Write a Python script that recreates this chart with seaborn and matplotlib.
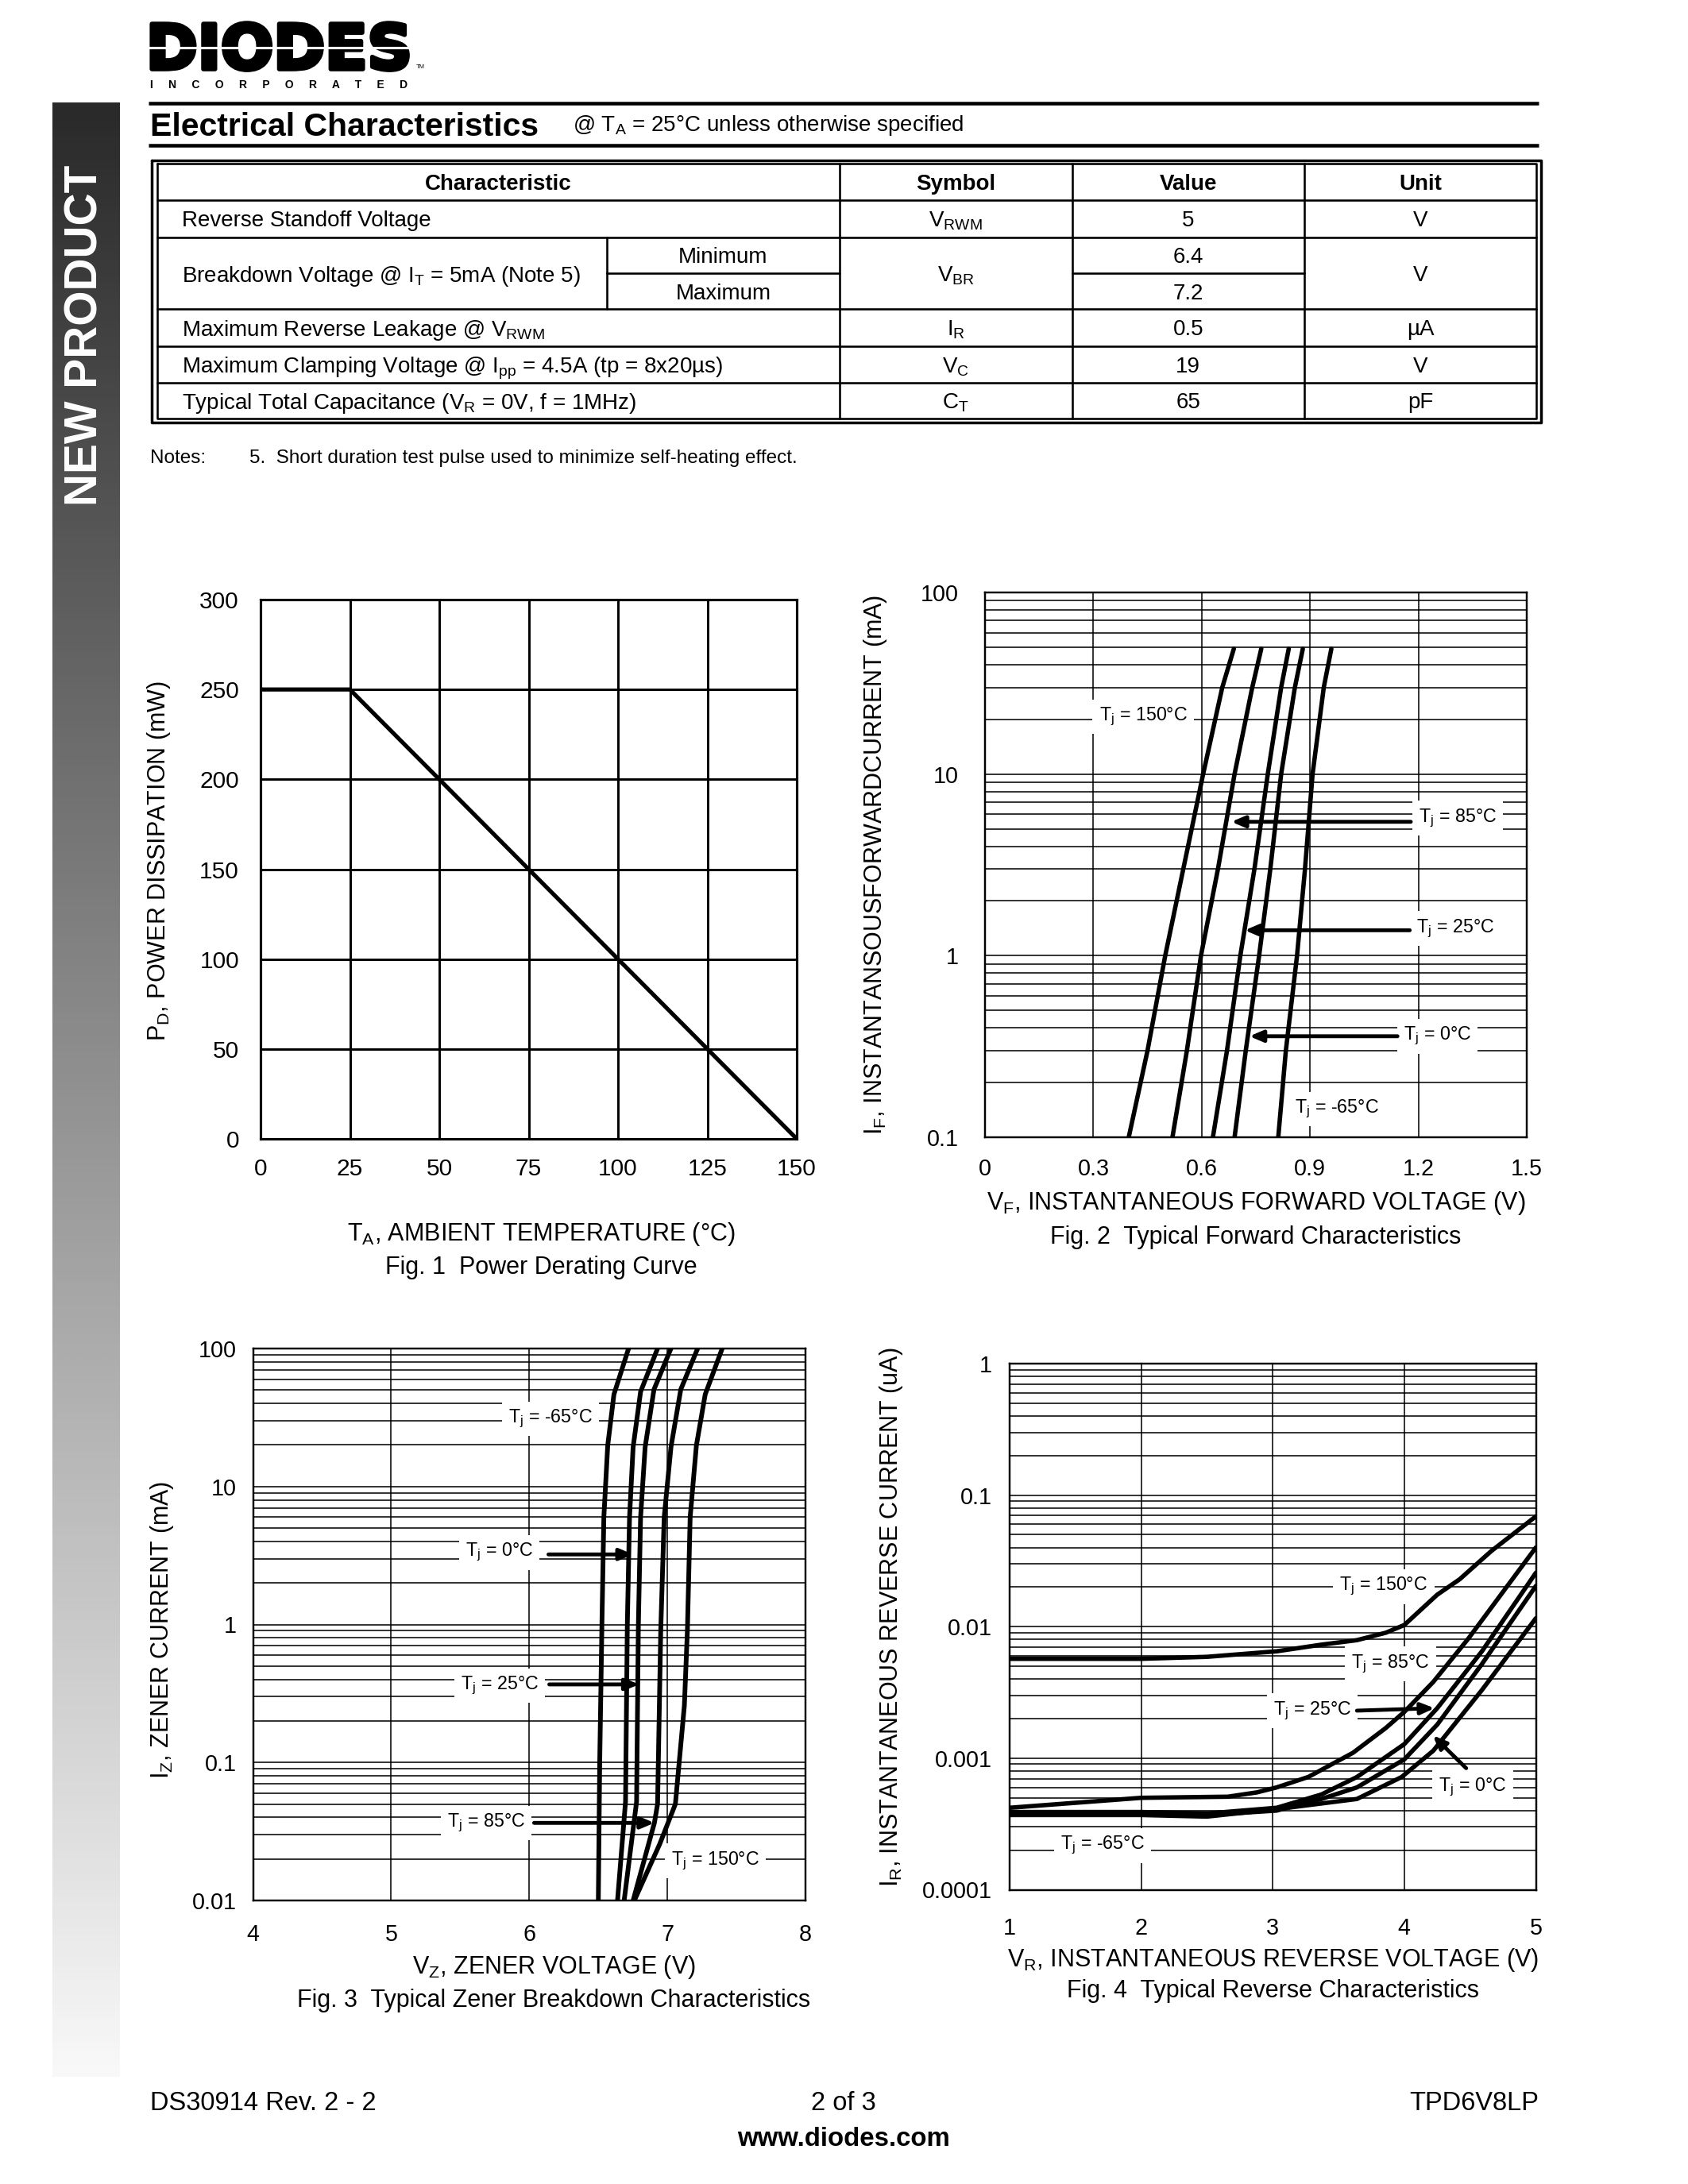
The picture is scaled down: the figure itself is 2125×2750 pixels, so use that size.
import numpy as np
import matplotlib
matplotlib.use("Agg")
import matplotlib.pyplot as plt
import matplotlib.patheffects as pe
import seaborn as sns
from matplotlib.ticker import LogLocator, NullFormatter
from matplotlib.colors import LinearSegmentedColormap

sns.set_style("white")
plt.rcParams.update({
    "font.family": ["Liberation Sans", "DejaVu Sans"],
    "mathtext.fontset": "custom",
    "mathtext.rm": "Liberation Sans",
    "mathtext.it": "Liberation Sans:italic",
    "mathtext.bf": "Liberation Sans:bold",
    "text.color": "black", "axes.edgecolor": "black", "axes.labelcolor": "black",
    "xtick.color": "black", "ytick.color": "black",
})

# ------------------------------------------------------------------ data
# Table
tbl_headers = ["Characteristic", "Symbol", "Value", "Unit"]
tbl_characteristics = [
    "Reverse Standoff Voltage",
    r"Breakdown Voltage @ I$_\mathregular{T}$ = 5mA (Note 5)",
    r"Maximum Reverse Leakage @ V$_\mathregular{RWM}$",
    r"Maximum Clamping Voltage @ I$_\mathregular{pp}$ = 4.5A (tp = 8x20µs)",
    r"Typical Total Capacitance (V$_\mathregular{R}$ = 0V, f = 1MHz)",
]
tbl_sub = ["Minimum", "Maximum"]
tbl_symbols = [r"V$_\mathregular{RWM}$", r"V$_\mathregular{BR}$", r"I$_\mathregular{R}$",
               r"V$_\mathregular{C}$", r"C$_\mathregular{T}$"]
tbl_values = ["5", ["6.4", "7.2"], "0.5", "19", "65"]
tbl_units = ["V", "V", "µA", "V", "pF"]

# Fig 1: power derating
fig1_temp = [0, 25, 150]
fig1_power = [250, 250, 0]
fig1_xticks = [0, 25, 50, 75, 100, 125, 150]
fig1_yticks = [0, 50, 100, 150, 200, 250, 300]

# Fig 2: forward characteristics (V, mA)
fig2_curves = {
    "150": ([0.398, 0.450, 0.499, 0.549, 0.604, 0.657, 0.689], [0.1, 0.3, 1, 3, 10, 30, 49]),
    "85":  ([0.519, 0.559, 0.598, 0.645, 0.691, 0.740, 0.765], [0.1, 0.3, 1, 3, 10, 30, 49]),
    "25":  ([0.631, 0.670, 0.707, 0.746, 0.783, 0.820, 0.841], [0.1, 0.3, 1, 3, 10, 30, 49]),
    "0":   ([0.691, 0.722, 0.759, 0.790, 0.820, 0.858, 0.880], [0.1, 0.3, 1, 3, 10, 30, 49]),
    "-65": ([0.812, 0.833, 0.864, 0.886, 0.907, 0.938, 0.959], [0.1, 0.3, 1, 3, 10, 30, 49]),
}
fig2_xticks = [0, 0.3, 0.6, 0.9, 1.2, 1.5]
fig2_xlabels = ["0", "0.3", "0.6", "0.9", "1.2", "1.5"]
fig2_yticks = [0.1, 1, 10, 100]
fig2_ylabels = ["0.1", "1", "10", "100"]
fig2_labels = [  # text, x, y, arrow tail, arrow tip
    ("150°C", 0.438, 20.7, None, None),
    ("85°C", 1.309, 5.73, (1.179, 5.46), (0.682, 5.46)),
    ("25°C", 1.303, 1.41, (1.176, 1.38), (0.719, 1.38)),
    ("0°C", 1.253, 0.36, (1.142, 0.36), (0.732, 0.36)),
    ("-65°C", 0.975, 0.143, None, None),
]

# Fig 3: zener breakdown (V, mA)
fig3_curves = {
    "-65": ([6.500, 6.510, 6.526, 6.540, 6.568, 6.613, 6.719], [0.01, 0.1, 1, 6, 19.8, 46.5, 100]),
    "0":   ([6.639, 6.697, 6.710, 6.726, 6.752, 6.806, 6.929], [0.01, 0.052, 1, 6, 19.3, 48.6, 100]),
    "25":  ([6.687, 6.777, 6.790, 6.806, 6.839, 6.903, 7.026], [0.01, 0.052, 1, 6, 19.3, 50.5, 100]),
    "85":  ([6.752, 6.906, 6.929, 6.952, 6.977, 7.026, 7.097, 7.219], [0.01, 0.0365, 0.05, 0.91, 6, 19.3, 50.5, 100]),
    "150": ([6.761, 6.945, 7.058, 7.123, 7.145, 7.165, 7.210, 7.274, 7.397],
            [0.01, 0.0257, 0.05, 0.258, 0.91, 6, 19.8, 46.5, 100]),
}
fig3_xticks = [4, 5, 6, 7, 8]
fig3_yticks = [0.01, 0.1, 1, 10, 100]
fig3_ylabels = ["0.01", "0.1", "1", "10", "100"]
fig3_labels = [
    ("-65°C", 6.155, 31, None, None),
    ("0°C", 5.784, 3.33, (6.139, 3.22), (6.752, 3.22)),
    ("25°C", 5.784, 0.36, (6.145, 0.368), (6.794, 0.368)),
    ("85°C", 5.687, 0.0364, (6.035, 0.0365), (6.906, 0.0365)),
    ("150°C", 7.348, 0.0194, None, None),
]

# Fig 4: reverse characteristics (V, uA)
fig4_curves = {
    "150": ([1, 2, 2.5, 3.03, 3.37, 3.64, 3.86, 4.0, 4.25, 4.42, 4.66, 5.0],
            [0.0057, 0.0057, 0.0059, 0.0065, 0.0073, 0.0079, 0.009, 0.0103, 0.0175, 0.0229, 0.0375, 0.069]),
    "85":  ([1, 2, 2.66, 2.88, 3.03, 3.27, 3.61, 3.86, 4.0, 4.22, 4.49, 5.0],
            [0.00042, 0.0005, 0.00051, 0.00055, 0.0006, 0.00072, 0.0011, 0.0017, 0.00225, 0.0038, 0.0082, 0.04]),
    "25":  ([1, 2, 2.5, 3.03, 3.37, 3.64, 4.0, 4.25, 4.59, 5.0],
            [0.00039, 0.00039, 0.00038, 0.00042, 0.00053, 0.00072, 0.00128, 0.0024, 0.0065, 0.0257]),
    "0":   ([1, 2, 2.5, 3.03, 3.37, 3.64, 4.0, 4.25, 4.59, 5.0],
            [0.00038, 0.00038, 0.00037, 0.0004, 0.00049, 0.0006, 0.00098, 0.0018, 0.0052, 0.0204]),
    "-65": ([1, 2, 2.5, 3.03, 3.64, 3.98, 4.22, 4.59, 5.0],
            [0.00037, 0.00037, 0.00036, 0.00041, 0.00049, 0.00072, 0.00114, 0.0033, 0.0116]),
}
fig4_xticks = [1, 2, 3, 4, 5]
fig4_yticks = [0.0001, 0.001, 0.01, 0.1, 1]
fig4_ylabels = ["0.0001", "0.001", "0.01", "0.1", "1"]
fig4_labels = [
    ("150°C", 3.844, 0.0202, None, None),
    ("85°C", 3.895, 0.0052, None, None),
    ("25°C", 3.30, 0.0023, (3.64, 0.0023), (4.23, 0.0024)),
    ("0°C", 4.52, 0.0006, (4.47, 0.00084), (4.217, 0.00149)),
    ("-65°C", 1.708, 0.000217, None, None),
]

# ------------------------------------------------------------------ page
W, H = 2125, 2750
fig = plt.figure(figsize=(8.5, 11), dpi=250)
pg = fig.add_axes([0, 0, 1, 1])
pg.axis("off")


def box(l, t, r, b):
    return [l / W, 1 - b / H, (r - l) / W, (b - t) / H]


# sidebar gradient
cm = LinearSegmentedColormap.from_list("side", ["#2a2a2a", "#f8f8f8"])
pg.imshow(np.linspace(0, 1, 256).reshape(-1, 1), cmap=cm, aspect="auto",
          extent=[66, 151, 2615, 129], interpolation="bilinear", zorder=0)
pg.set_xlim(0, W)
pg.set_ylim(H, 0)
pg.text(108, 422, "NEW PRODUCT", rotation=90, ha="center", va="center", color="white",
        fontsize=16.4, fontweight="bold")

# logo
pg.text(184, 87, "DIODES", ha="left", va="baseline", fontsize=22.5, fontweight="bold",
        family=["DejaVu Sans"],
        path_effects=[pe.withStroke(linewidth=1.6, foreground="black")])
pg.plot([176, 528], [60, 60], color="white", lw=0.9, solid_capstyle="butt", zorder=6)
pg.text(524, 86, "TM", fontsize=2.2, ha="left", va="baseline")
pg.text(351, 111, "I     N     C     O     R     P     O     R     A     T     E     D", fontsize=4.0,
        fontweight="bold", ha="center", va="baseline")

# header
pg.plot([187, 1937], [129.5, 129.5], color="black", lw=1.3, solid_capstyle="butt")
pg.plot([187, 1937], [183, 183], color="black", lw=1.3, solid_capstyle="butt")
pg.text(189, 171, "Electrical Characteristics", fontsize=11.8, fontweight="bold", ha="left", va="baseline")
pg.text(721, 165, r"@ T$_\mathregular{A}$ = 25°C unless otherwise specified", fontsize=8.0,
        ha="left", va="baseline")

# table
L_out, R_out, T_out, B_out = 191, 1939.5, 201.5, 532
L_in, R_in, T_in, B_in = 198, 1934, 206, 527
cols = [1057, 1349.5, 1642]
sub_split = 764
rows = [252, 298.5, 389, 435.5, 481.5]
split_y = 344
lw_t = 0.75
pg.plot([L_out, R_out, R_out, L_out, L_out], [T_out, T_out, B_out, B_out, T_out], color="black", lw=1.0)
pg.plot([L_in, R_in, R_in, L_in, L_in], [T_in, T_in, B_in, B_in, T_in], color="black", lw=lw_t)
for y in rows:
    pg.plot([L_in, R_in], [y, y], color="black", lw=lw_t)
for x in cols:
    pg.plot([x, x], [T_in, B_in], color="black", lw=lw_t)
pg.plot([sub_split, sub_split], [rows[1], rows[2]], color="black", lw=lw_t)
pg.plot([sub_split, cols[0]], [split_y, split_y], color="black", lw=lw_t)
pg.plot([cols[1], cols[2]], [split_y, split_y], color="black", lw=lw_t)

col_centers = [(L_in + cols[0]) / 2, (cols[0] + cols[1]) / 2, (cols[1] + cols[2]) / 2, (cols[2] + R_in) / 2]
for cx, h in zip(col_centers, tbl_headers):
    pg.text(cx, (T_in + rows[0]) / 2, h, fontsize=8, fontweight="bold", ha="center", va="center_baseline")
row_bounds = [rows[0], rows[1], rows[2], rows[3], rows[4], B_in]
for i in range(5):
    cy = (row_bounds[i] + row_bounds[i + 1]) / 2
    pg.text(229, cy, tbl_characteristics[i], fontsize=8, ha="left", va="center_baseline")
    pg.text(col_centers[1], cy, tbl_symbols[i], fontsize=8, ha="center", va="center_baseline")
    pg.text(col_centers[3], cy, tbl_units[i], fontsize=8, ha="center", va="center_baseline")
    if isinstance(tbl_values[i], list):
        for j, (yv0, yv1) in enumerate([(rows[1], split_y), (split_y, rows[2])]):
            pg.text(col_centers[2], (yv0 + yv1) / 2, tbl_values[i][j], fontsize=8, ha="center",
                    va="center_baseline")
            pg.text((sub_split + cols[0]) / 2, (yv0 + yv1) / 2, tbl_sub[j], fontsize=8, ha="center",
                    va="center_baseline")
    else:
        pg.text(col_centers[2], cy, tbl_values[i], fontsize=8, ha="center", va="center_baseline")

pg.text(189, 574, "Notes:", fontsize=7.0, ha="left", va="center_baseline")
pg.text(314, 574, "5.  Short duration test pulse used to minimize self-heating effect.", fontsize=7.0,
        ha="left", va="center_baseline")

# footer
pg.text(189, 2645, "DS30914 Rev. 2 - 2", fontsize=9.4, ha="left", va="center_baseline")
pg.text(1062, 2645, "2 of 3", fontsize=9.4, ha="center", va="center_baseline")
pg.text(1937, 2645, "TPD6V8LP", fontsize=9.4, ha="right", va="center_baseline")
pg.text(1062, 2690, "www.diodes.com", fontsize=9.5, fontweight="bold", ha="center", va="center_baseline")

LAB = 8.8
TICK = 8.3
TJ = 6.7


def style_common(ax, xlabel, ylabel, title, xl_pos, yl_pos, title_y, xpad, ypad):
    for s in ax.spines.values():
        s.set_linewidth(0.7)
        s.set_color("black")
    ax.tick_params(which="both", length=0, labelsize=TICK)
    ax.tick_params(axis="x", pad=xpad)
    ax.tick_params(axis="y", pad=ypad)
    ax.set_xlabel(xlabel, fontsize=LAB, va="center")
    ax.xaxis.set_label_coords(*xl_pos)
    ax.set_ylabel(ylabel, fontsize=LAB, va="center")
    ax.yaxis.set_label_coords(*yl_pos)
    ax.text(xl_pos[0], title_y, title, transform=ax.transAxes, fontsize=LAB, ha="center", va="center")


def log_grid(ax):
    ax.yaxis.set_minor_locator(LogLocator(base=10, subs=np.arange(2, 10)))
    ax.yaxis.set_minor_formatter(NullFormatter())
    ax.grid(True, which="both", axis="y", color="black", lw=0.45)
    ax.grid(True, which="major", axis="x", color="black", lw=0.45)
    ax.set_axisbelow(True)


def tj_labels(ax, labels):
    for txt, x, y, tail, tip in labels:
        ax.text(x, y, r"T$_\mathregular{j}$ = " + txt, fontsize=TJ, ha="center", va="center", zorder=1,
                bbox=dict(boxstyle="square,pad=0.35", fc="white", ec="none"))
        if tail is not None:
            ax.annotate("", xy=tip, xytext=tail, zorder=3,
                        arrowprops=dict(arrowstyle="-|>,head_length=0.4,head_width=0.17", lw=1.4,
                                        color="black", shrinkA=0, shrinkB=0))


# ---------------- Fig 1
ax1 = fig.add_axes(box(328, 755, 1003, 1434))
sns.lineplot(x=fig1_temp, y=fig1_power, ax=ax1, color="black", lw=1.5, sort=False, estimator=None)
ax1.set_xlim(0, 150)
ax1.set_ylim(0, 300)
ax1.set_xticks(fig1_xticks)
ax1.set_yticks(fig1_yticks)
ax1.grid(True, which="major", color="black", lw=0.85)
ax1.set_axisbelow(True)
style_common(ax1, r"T$_\mathregular{A}$, AMBIENT TEMPERATURE (°C)", r"P$_\mathregular{D}$, POWER DISSIPATION (mW)",
             "Fig. 1  Power Derating Curve", (0.523, -0.177), (-0.190, 0.515), -0.239, 7, 7.8)
ax1.tick_params(labelsize=8.6)
for s in ax1.spines.values():
    s.set_linewidth(0.9)

# ---------------- Fig 2
ax2 = fig.add_axes(box(1240, 746, 1922, 1432))
for k, (v, i) in fig2_curves.items():
    sns.lineplot(x=v, y=i, ax=ax2, color="black", lw=1.6, sort=False, estimator=None)
ax2.set_yscale("log")
ax2.set_xlim(0, 1.5)
ax2.set_ylim(0.1, 100)
ax2.set_xticks(fig2_xticks)
ax2.set_xticklabels(fig2_xlabels)
ax2.set_yticks(fig2_yticks)
ax2.set_yticklabels(fig2_ylabels)
log_grid(ax2)
style_common(ax2, r"V$_\mathregular{F}$, INSTANTANEOUS FORWARD VOLTAGE (V)",
             r"I$_\mathregular{F}$, INSTANTANSOUSFORWARDCURRENT (mA)",
             "Fig. 2  Typical Forward Characteristics", (0.5, -0.121), (-0.202, 0.5), -0.183, 7.5, 9.6)
tj_labels(ax2, fig2_labels)

# ---------------- Fig 3
ax3 = fig.add_axes(box(318.6, 1698, 1014, 2393))
for k, (v, i) in fig3_curves.items():
    sns.lineplot(x=v, y=i, ax=ax3, color="black", lw=1.7, sort=False, estimator=None)
ax3.set_yscale("log")
ax3.set_xlim(4, 8)
ax3.set_ylim(0.01, 100)
ax3.set_xticks(fig3_xticks)
ax3.set_yticks(fig3_yticks)
ax3.set_yticklabels(fig3_ylabels)
log_grid(ax3)
style_common(ax3, r"V$_\mathregular{Z}$, ZENER VOLTAGE (V)", r"I$_\mathregular{Z}$, ZENER CURRENT (mA)",
             "Fig. 3  Typical Zener Breakdown Characteristics", (0.544, -0.121), (-0.165, 0.49), -0.182,
             8.3, 6)
tj_labels(ax3, fig3_labels)

# ---------------- Fig 4
ax4 = fig.add_axes(box(1271, 1717, 1933.5, 2379.5))
for k, (v, i) in fig4_curves.items():
    sns.lineplot(x=v, y=i, ax=ax4, color="black", lw=1.6, sort=False, estimator=None)
ax4.set_yscale("log")
ax4.set_xlim(1, 5)
ax4.set_ylim(0.0001, 1)
ax4.set_xticks(fig4_xticks)
ax4.set_yticks(fig4_yticks)
ax4.set_yticklabels(fig4_ylabels)
log_grid(ax4)
style_common(ax4, r"V$_\mathregular{R}$, INSTANTANEOUS REVERSE VOLTAGE (V)",
             r"I$_\mathregular{R}$, INSTANTANEOUS REVERSE CURRENT (uA)",
             "Fig. 4  Typical Reverse Characteristics", (0.5, -0.133), (-0.225, 0.518), -0.193, 9.8, 6.5)
tj_labels(ax4, fig4_labels)

fig.savefig("out.png", dpi=250)
